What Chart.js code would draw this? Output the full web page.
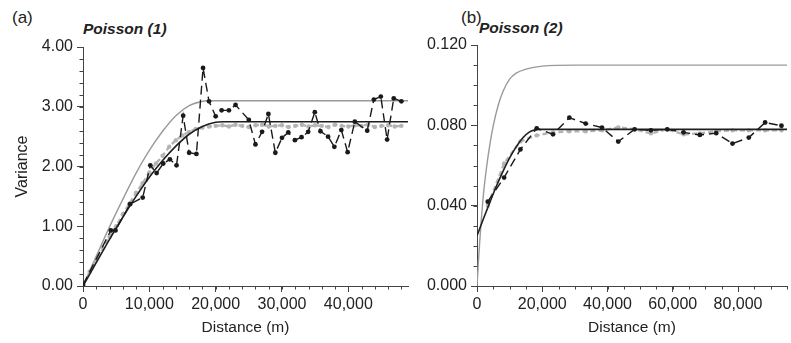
<!DOCTYPE html>
<html>
<head>
<meta charset="utf-8">
<script src="https://cdn.jsdelivr.net/npm/chart.js@4/dist/chart.umd.min.js"></script>
<style>
  html, body { margin: 0; padding: 0; background: #fff; }
  body { width: 791px; height: 343px; position: relative; overflow: hidden; font-family: "Liberation Sans", Arial, sans-serif; }
  canvas { position: absolute; top: 0; }
  .lab { position: absolute; color: #222; white-space: nowrap; line-height: 1; }
  .panel { font-size: 17px; }
  .ttl { font-size: 15.5px; font-weight: bold; font-style: italic; }
</style>
</head>
<body>
<div class="lab panel" style="left:12px;top:9px;">(a)</div>
<div class="lab ttl" style="left:83px;top:21px;">Poisson (1)</div>
<div class="lab panel" style="left:461px;top:9px;">(b)</div>
<div class="lab ttl" style="left:479px;top:20px;">Poisson (2)</div>
<canvas id="ca" width="412" height="343" style="left:0px;width:412px;height:343px;"></canvas>
<canvas id="cb" width="391" height="343" style="left:400px;width:391px;height:343px;"></canvas>
<script>
// ---------- Panel (a): Poisson (1) ----------
const aGrayModelX = [0, 2000, 4000, 6000, 8000, 10000, 12000, 14000, 16000, 18000, 18500, 49000];
const aGrayModelY = [0, 0.50, 0.99, 1.45, 1.89, 2.27, 2.59, 2.85, 3.02, 3.09, 3.10, 3.10];

const aBlackModelX = [0, 2000, 4000, 6000, 8000, 10000, 12000, 14000, 16000, 18000, 20000, 21000, 49000];
const aBlackModelY = [0, 0.39, 0.78, 1.15, 1.50, 1.82, 2.10, 2.34, 2.54, 2.67, 2.74, 2.75, 2.75];

const aGrayEmpX = [1000, 2000, 3000, 4000, 5000, 6000, 7000, 8000, 9000, 10000, 11000, 12000, 13000, 14000, 15000, 16000, 17000, 18000, 19000, 20000, 21000, 22000, 23000, 24000, 25000, 26000, 27000, 28000, 29000, 30000, 31000, 32000, 33000, 34000, 35000, 36000, 37000, 38000, 39000, 40000, 41000, 42000, 43000, 44000, 45000, 46000, 47000, 48000];
const aGrayEmpY = [0.24, 0.44, 0.63, 0.82, 1.00, 1.20, 1.38, 1.56, 1.72, 1.90, 2.05, 2.18, 2.33, 2.44, 2.52, 2.58, 2.63, 2.65, 2.67, 2.68, 2.69, 2.67, 2.70, 2.68, 2.66, 2.69, 2.70, 2.67, 2.68, 2.69, 2.66, 2.68, 2.70, 2.67, 2.69, 2.68, 2.66, 2.70, 2.68, 2.67, 2.69, 2.68, 2.70, 2.66, 2.68, 2.69, 2.67, 2.68];

const aBlackEmpX = [0, 4200, 4900, 7100, 9000, 10150, 11100, 12100, 13100, 14100, 15100, 16000, 17100, 18100, 19000, 20000, 20900, 22000, 23000, 25000, 26000, 27000, 27950, 29000, 30000, 30950, 31950, 32950, 33950, 34950, 35800, 36950, 37900, 38950, 39900, 40980, 42850, 43850, 44900, 45850, 46850, 48000];
const aBlackEmpY = [0.02, 0.93, 0.93, 1.37, 1.48, 2.02, 1.89, 2.05, 2.12, 2.02, 2.85, 2.23, 2.21, 3.65, 3.09, 2.84, 2.94, 2.94, 3.03, 2.78, 2.37, 2.58, 2.88, 2.23, 2.48, 2.57, 2.44, 2.49, 2.58, 2.91, 2.59, 2.50, 2.33, 2.61, 2.24, 2.75, 2.60, 3.12, 3.17, 2.45, 3.14, 3.09];

const aYTicks = [0, 1, 2, 3, 4];
const aXTicks = [0, 10000, 20000, 30000, 40000];

// ---------- Panel (b): Poisson (2) ----------
const bGrayModelX = [0, 500, 1000, 2000, 3000, 4000, 5000, 6500, 8000, 10000, 12000, 15000, 20000, 30000, 95000];
const bGrayModelY = [0, 0.014, 0.026, 0.046, 0.060, 0.071, 0.080, 0.090, 0.097, 0.103, 0.106, 0.108, 0.1095, 0.110, 0.110];

const bBlackModelX = [0, 2000, 4000, 6000, 8000, 10000, 12000, 14000, 16000, 18000, 18500, 95000];
const bBlackModelY = [0.025, 0.0336, 0.0419, 0.0499, 0.0572, 0.0638, 0.0693, 0.0737, 0.0766, 0.0779, 0.078, 0.078];

const bEmpX = [3300, 8300, 13300, 18300, 23300, 28300, 33300, 38300, 43300, 48300, 53300, 58300, 63300, 68300, 73300, 78300, 83300, 88300, 93300];
const bGrayEmpY = [0.040, 0.061, 0.072, 0.075, 0.0765, 0.077, 0.077, 0.0775, 0.079, 0.078, 0.076, 0.078, 0.0755, 0.076, 0.077, 0.0775, 0.0775, 0.0775, 0.0775];
const bBlackEmpY = [0.042, 0.054, 0.068, 0.0785, 0.0755, 0.0838, 0.0809, 0.0789, 0.0719, 0.078, 0.0775, 0.078, 0.0765, 0.0752, 0.0761, 0.0709, 0.0739, 0.0814, 0.0798];

const bYTicks = [0, 0.04, 0.08, 0.12];
const bXTicks = [0, 20000, 40000, 60000, 80000];

// ---------- helpers ----------
const zip = (xs, ys) => xs.map((x, i) => ({ x: x, y: ys[i] }));
const FONT = "'Liberation Sans', Arial, sans-serif";
const TXT = '#222';
const AX = '#444';

const minorTicks = {
  id: 'minorTicks',
  afterDraw(chart, args, opts) {
    const ctx = chart.ctx;
    ctx.save();
    ctx.strokeStyle = AX;
    ctx.lineWidth = 1;
    for (const id of Object.keys(opts.steps || {})) {
      const s = chart.scales[id];
      const step = opts.steps[id];
      const n = Math.round((s.max - s.min) / step);
      for (let i = 0; i <= n; i++) {
        const p = Math.round(s.getPixelForValue(s.min + i * step)) + 0.5;
        ctx.beginPath();
        if (s.isHorizontal()) {
          ctx.moveTo(p, s.top);
          ctx.lineTo(p, s.top + opts.len);
        } else {
          ctx.moveTo(s.right, p);
          ctx.lineTo(s.right - opts.len, p);
        }
        ctx.stroke();
      }
    }
    ctx.restore();
  }
};

function makeChart(id, cfg) {
  const lineBase = { showLine: true, fill: false, tension: 0 };
  const datasets = [
    Object.assign({}, lineBase, {
      label: 'empirical (black)', data: cfg.blackEmp,
      borderColor: '#1a1a1a', borderWidth: 1.4, borderDash: [9, 5],
      pointRadius: 2.4, pointBackgroundColor: '#1a1a1a', pointBorderWidth: 0
    }),
    Object.assign({}, lineBase, {
      label: 'model (black)', data: cfg.blackModel,
      borderColor: '#1f1f1f', borderWidth: 1.6, pointRadius: 0,
      cubicInterpolationMode: 'monotone'
    }),
    Object.assign({}, lineBase, {
      label: 'empirical (gray)', data: cfg.grayEmp,
      borderColor: '#b4b4b4', borderWidth: 2.4, borderDash: [5, 3],
      pointRadius: 2.2, pointBackgroundColor: '#b4b4b4', pointBorderWidth: 0
    }),
    Object.assign({}, lineBase, {
      label: 'model (gray)', data: cfg.grayModel,
      borderColor: '#9a9a9a', borderWidth: 1.4, pointRadius: 0,
      cubicInterpolationMode: 'monotone'
    })
  ];
  return new Chart(document.getElementById(id), {
    type: 'scatter',
    data: { datasets: datasets },
    plugins: [minorTicks],
    options: {
      responsive: false,
      animation: false,
      devicePixelRatio: 1,
      layout: { padding: { left: 0, right: cfg.padRight, top: cfg.top, bottom: 0 } },
      plugins: {
        legend: { display: false },
        tooltip: { enabled: false },
        minorTicks: { steps: { x: cfg.xMinor, y: cfg.yMinor }, len: 3.5 }
      },
      scales: {
        x: {
          type: 'linear', min: 0, max: cfg.xMax,
          afterFit: s => { s.height = 57; },
          afterBuildTicks: s => { s.ticks = cfg.xTicks.map(v => ({ value: v })); },
          ticks: {
            includeBounds: false, autoSkip: false, maxRotation: 0, padding: 3,
            color: TXT, font: { family: FONT, size: 16 },
            callback: v => Number(v).toLocaleString('en-US')
          },
          grid: { display: true, drawOnChartArea: false, drawTicks: true, tickLength: 6, color: AX, tickColor: AX },
          border: { display: true, color: AX, width: 1 },
          title: { display: true, text: 'Distance (m)', color: TXT, font: { family: FONT, size: 15.5 }, padding: { top: 0, bottom: 6 } }
        },
        y: {
          type: 'linear', min: 0, max: cfg.yMax,
          afterFit: s => { s.width = cfg.yWidth; },
          afterBuildTicks: s => { s.ticks = cfg.yTicks.map(v => ({ value: v })); },
          ticks: {
            includeBounds: false, autoSkip: false, padding: 4,
            color: TXT, font: { family: FONT, size: 16 },
            callback: v => Number(v).toFixed(cfg.yDec)
          },
          grid: { display: true, drawOnChartArea: false, drawTicks: true, tickLength: 6, color: AX, tickColor: AX },
          border: { display: true, color: AX, width: 1 },
          title: { display: !!cfg.yTitle, text: cfg.yTitle || '', color: TXT, font: { family: FONT, size: 16 }, padding: { top: 13, bottom: 0 } }
        }
      }
    }
  });
}

makeChart('ca', {
  blackEmp: zip(aBlackEmpX, aBlackEmpY),
  blackModel: zip(aBlackModelX, aBlackModelY),
  grayEmp: zip(aGrayEmpX, aGrayEmpY),
  grayModel: zip(aGrayModelX, aGrayModelY),
  xMax: 49000, yMax: 4, xMinor: 2000, yMinor: 0.2,
  xTicks: aXTicks, yTicks: aYTicks, yDec: 2,
  yWidth: 83, top: 47, padRight: 3, yTitle: 'Variance'
});

makeChart('cb', {
  blackEmp: zip(bEmpX, bBlackEmpY),
  blackModel: zip(bBlackModelX, bBlackModelY),
  grayEmp: zip(bEmpX, bGrayEmpY),
  grayModel: zip(bGrayModelX, bGrayModelY),
  xMax: 95000, yMax: 0.12, xMinor: 5000, yMinor: 0.01,
  xTicks: bXTicks, yTicks: bYTicks, yDec: 3,
  yWidth: 77, top: 45, padRight: 0, yTitle: ''
});
</script>
</body>
</html>
